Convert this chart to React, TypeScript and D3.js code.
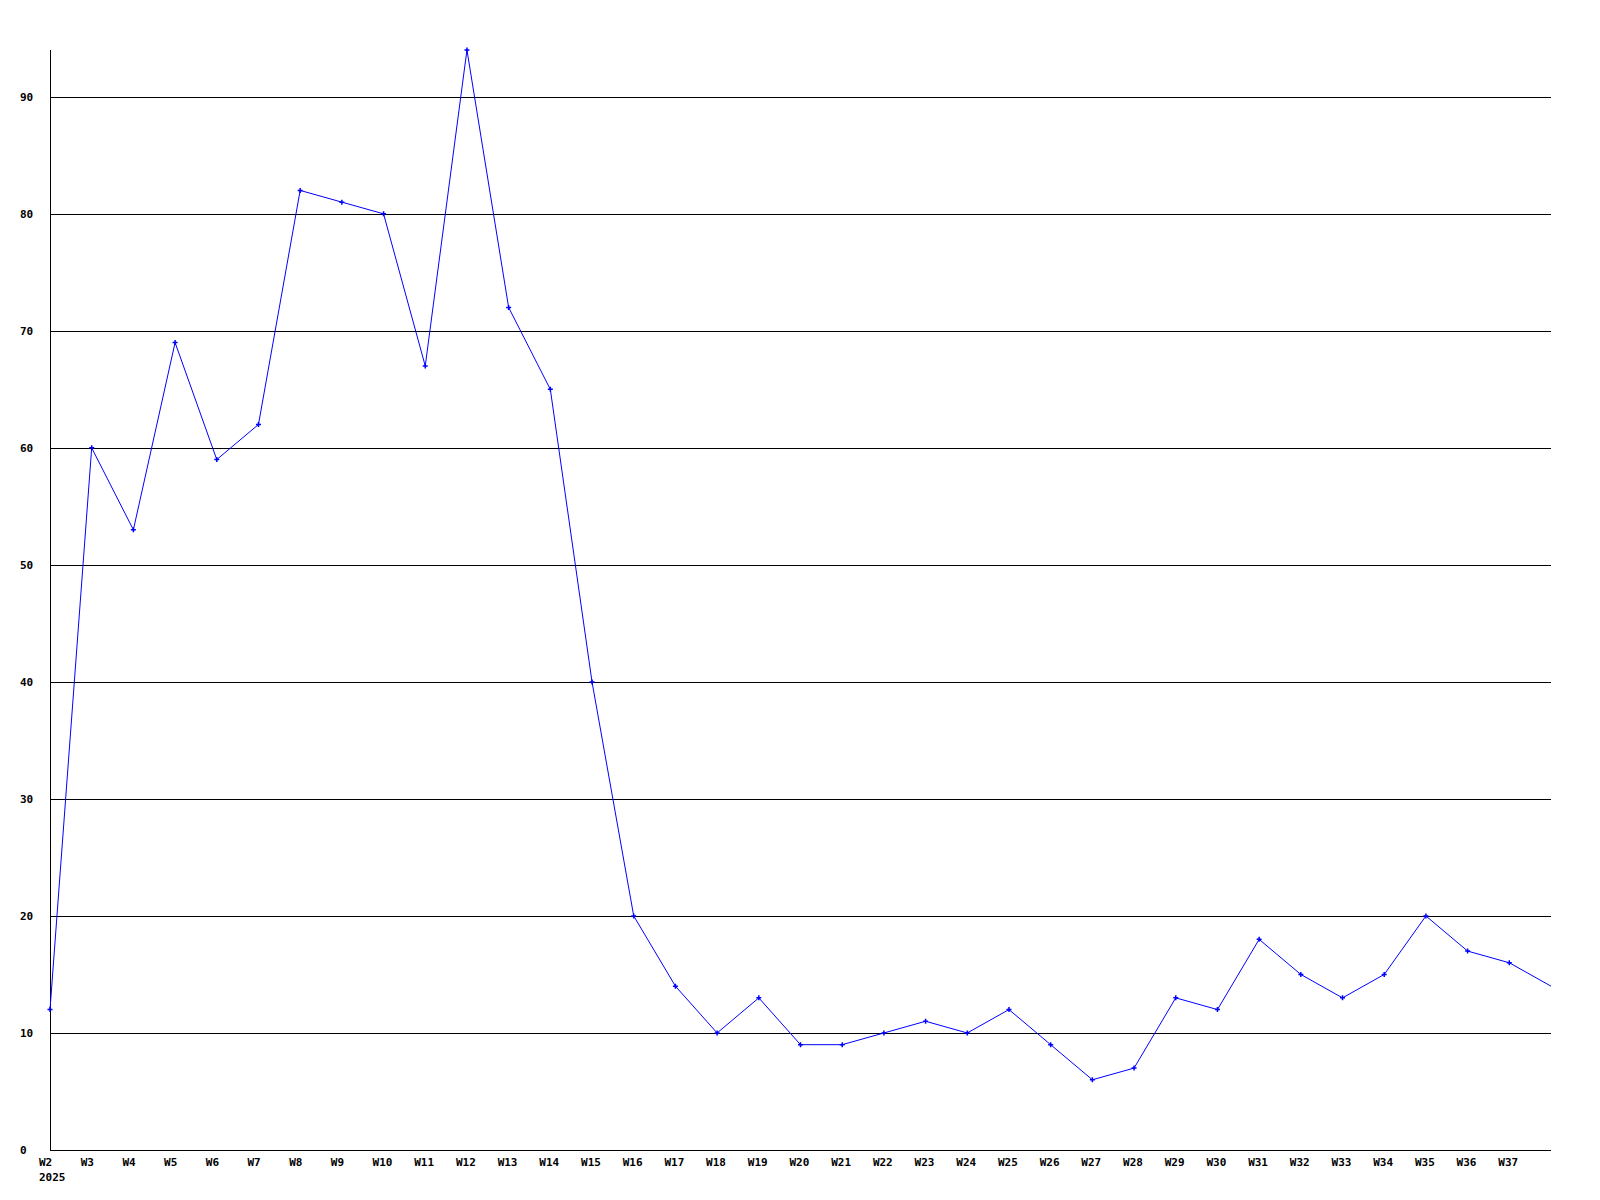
import React from "react";
import * as d3 from "d3";

const weeks = ["W2","W3","W4","W5","W6","W7","W8","W9","W10","W11","W12","W13","W14","W15","W16","W17","W18","W19","W20","W21","W22","W23","W24","W25","W26","W27","W28","W29","W30","W31","W32","W33","W34","W35","W36","W37","W38"];
const values = [12,60,53,69,59,62,82,81,80,67,94,72,65,40,20,14,10,13,9,9,10,11,10,12,9,6,7,13,12,18,15,13,15,20,17,16,14];
const yTicks = [0,10,20,30,40,50,60,70,80,90];
const labeledWeeks = weeks.slice(0, 36);
const yearLabel = "2025";

export default function App() {
  const W = 1600, H = 1200;
  const x0 = 50, x1 = 1551, yTop = 50, yBot = 1150;
  const x = d3.scalePoint<string>().domain(weeks).range([x0, x1]);
  const y = d3.scaleLinear().domain([0, 94]).range([yBot, yTop]);
  const line = d3.line<number>().x((_, i) => x(weeks[i])!).y(d => y(d));
  const font = "'DejaVu Sans Mono', monospace";
  return (
    <svg width={W} height={H} style={{ position: "absolute", left: 0, top: 0, background: "#fff" }}>
      <rect width={W} height={H} fill="#fff" />
      {yTicks.filter(t => t > 0).map(t => (
        <line key={t} x1={x0} x2={x1} y1={Math.round(y(t)) + 0.5} y2={Math.round(y(t)) + 0.5} stroke="#000" strokeWidth={1} />
      ))}
      <line x1={x0 + 0.5} x2={x0 + 0.5} y1={yTop} y2={yBot + 1} stroke="#000" />
      <line x1={x0} x2={x1} y1={yBot + 0.5} y2={yBot + 0.5} stroke="#000" />
      {yTicks.map(t => (
        <text key={t} x={20} y={y(t)} dy="0.35em" fontFamily={font} fontWeight="bold" fontSize={11} fill="#000">{t}</text>
      ))}
      {labeledWeeks.map(w => (
        <text key={w} x={x(w)! - 11} y={1162} dy="0.35em" fontFamily={font} fontWeight="bold" fontSize={11} fill="#000">{w}</text>
      ))}
      <text x={39} y={1177} dy="0.35em" fontFamily={font} fontWeight="bold" fontSize={11} fill="#000">{yearLabel}</text>
      <path d={line(values) || ""} fill="none" stroke="#0000ff" strokeWidth={1} />
      {values.slice(0, values.length - 1).map((v, i) => {
        const cx = x(weeks[i])!, cy = y(v);
        return (
          <path key={i} d={`M${cx - 2.5},${cy}L${cx + 2.5},${cy}M${cx},${cy - 2.5}L${cx},${cy + 2.5}`} stroke="#0000ff" strokeWidth={1.5} />
        );
      })}
    </svg>
  );
}
